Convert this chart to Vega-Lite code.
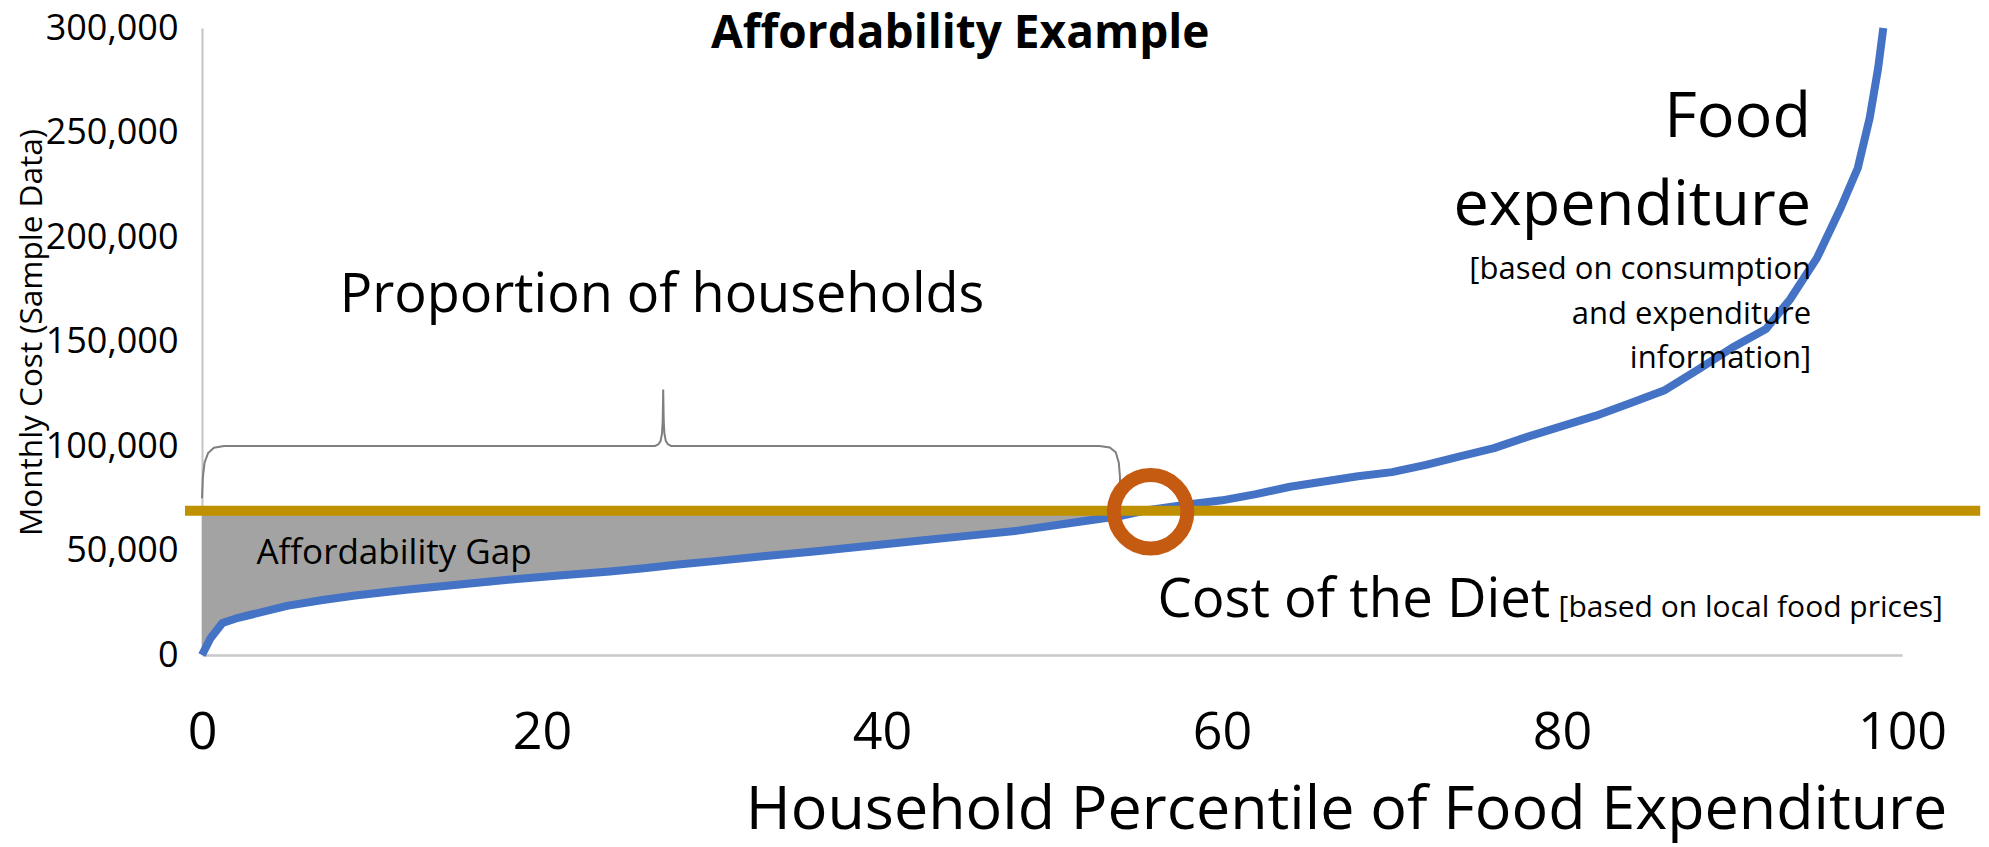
{
  "$schema": "https://vega.github.io/schema/vega-lite/v6.json",
  "autosize": {"type": "none"},
  "padding": {"left": 202, "top": 28, "right": 87, "bottom": 192},
  "width": 1700,
  "height": 627,
  "background": "white",
  "config": {
    "view": {"stroke": null},
    "font": "Open Sans",
    "text": {"font": "Open Sans", "color": "#000000"}
  },
  "datasets": {
    "curve": [
      {"pct": 0, "cost": 0},
      {"pct": 0.5, "cost": 8000},
      {"pct": 1.2, "cost": 15300},
      {"pct": 2, "cost": 17500},
      {"pct": 3, "cost": 19500},
      {"pct": 5, "cost": 23500},
      {"pct": 7, "cost": 26200},
      {"pct": 9, "cost": 28500},
      {"pct": 12, "cost": 31200},
      {"pct": 15, "cost": 33600},
      {"pct": 18, "cost": 36000},
      {"pct": 21, "cost": 38000},
      {"pct": 24, "cost": 40000},
      {"pct": 26, "cost": 41500},
      {"pct": 28, "cost": 43300},
      {"pct": 30, "cost": 44800},
      {"pct": 33, "cost": 47200},
      {"pct": 36, "cost": 49500},
      {"pct": 39, "cost": 52000},
      {"pct": 42, "cost": 54500},
      {"pct": 45, "cost": 57000},
      {"pct": 48, "cost": 59500},
      {"pct": 51, "cost": 63000},
      {"pct": 54, "cost": 66500},
      {"pct": 55.4, "cost": 69000},
      {"pct": 58, "cost": 72000},
      {"pct": 60, "cost": 74000},
      {"pct": 62, "cost": 77000},
      {"pct": 64, "cost": 80500},
      {"pct": 66, "cost": 83000},
      {"pct": 68, "cost": 85500},
      {"pct": 70, "cost": 87500},
      {"pct": 72, "cost": 91000},
      {"pct": 74, "cost": 95000},
      {"pct": 76, "cost": 99000},
      {"pct": 78, "cost": 104500},
      {"pct": 80, "cost": 109500},
      {"pct": 82, "cost": 114500},
      {"pct": 84, "cost": 120500},
      {"pct": 86, "cost": 126500},
      {"pct": 88, "cost": 136500},
      {"pct": 90, "cost": 147000},
      {"pct": 92, "cost": 156000},
      {"pct": 93.4, "cost": 170000},
      {"pct": 95, "cost": 190000},
      {"pct": 96.4, "cost": 214000},
      {"pct": 97.4, "cost": 233000},
      {"pct": 98.1, "cost": 257000},
      {"pct": 98.6, "cost": 281000},
      {"pct": 98.9, "cost": 300000}
    ],
    "brace": [
      {"step": 1, "pct": 0, "cost": 75000},
      {"step": 2, "pct": 0.05, "cost": 85000},
      {"step": 3, "pct": 0.15, "cost": 92000},
      {"step": 4, "pct": 0.35, "cost": 96500},
      {"step": 5, "pct": 0.7, "cost": 99200},
      {"step": 6, "pct": 1.3, "cost": 100000},
      {"step": 7, "pct": 26.65, "cost": 100000},
      {"step": 8, "pct": 26.85, "cost": 100800},
      {"step": 9, "pct": 26.98, "cost": 102500},
      {"step": 10, "pct": 27.06, "cost": 106000},
      {"step": 11, "pct": 27.1, "cost": 112000},
      {"step": 12, "pct": 27.13, "cost": 127000},
      {"step": 13, "pct": 27.16, "cost": 112000},
      {"step": 14, "pct": 27.2, "cost": 106000},
      {"step": 15, "pct": 27.28, "cost": 102500},
      {"step": 16, "pct": 27.41, "cost": 100800},
      {"step": 17, "pct": 27.6, "cost": 100000},
      {"step": 18, "pct": 52.8, "cost": 100000},
      {"step": 19, "pct": 53.4, "cost": 99300},
      {"step": 20, "pct": 53.75, "cost": 97000},
      {"step": 21, "pct": 53.93, "cost": 92000},
      {"step": 22, "pct": 54, "cost": 85000},
      {"step": 23, "pct": 54, "cost": 79000}
    ]
  },
  "encoding": {
    "x": {
      "field": "pct",
      "type": "quantitative",
      "scale": {"domain": [0, 100], "nice": false, "zero": false},
      "axis": {
        "title": "Household Percentile of Food Expenditure",
        "values": [0, 20, 40, 60, 80, 100],
        "grid": false,
        "ticks": false,
        "domainColor": "#C9C9C9",
        "domainWidth": 2.5,
        "labelFont": "Open Sans",
        "labelFontSize": 52,
        "labelColor": "#000000",
        "labelPadding": 52,
        "labelFlush": false,
        "titleFont": "Open Sans",
        "titleFontSize": 61,
        "titleFontWeight": "normal",
        "titleColor": "#000000",
        "titleAlign": "center",
        "titleBaseline": "alphabetic",
        "titleX": 1144,
        "titleY": 173
      }
    },
    "y": {
      "field": "cost",
      "type": "quantitative",
      "scale": {"domain": [0, 300000], "nice": false},
      "axis": {
        "title": "Monthly Cost (Sample Data)",
        "values": [0, 50000, 100000, 150000, 200000, 250000, 300000],
        "format": ",.0f",
        "grid": false,
        "ticks": false,
        "domainColor": "#C4C4C4",
        "domainWidth": 2,
        "labelFont": "Open Sans",
        "labelFontSize": 36,
        "labelColor": "#000000",
        "labelPadding": 24,
        "labelFlush": false,
        "titleFont": "Open Sans",
        "titleFontSize": 31.5,
        "titleFontWeight": "normal",
        "titleColor": "#000000",
        "titleAngle": -90,
        "titleAlign": "center",
        "titleBaseline": "middle",
        "titleX": -170,
        "titleY": 304
      }
    }
  },
  "layer": [
    {
      "data": {"name": "curve"},
      "transform": [{"filter": "datum.pct <= 55.4"}],
      "mark": {"type": "area", "color": "#A3A3A3", "opacity": 1},
      "encoding": {
        "y2": {"datum": 69000}
      }
    },
    {
      "data": {"name": "curve"},
      "mark": {"type": "line", "color": "#4472C4", "strokeWidth": 8, "strokeJoin": "round", "strokeCap": "butt", "clip": false},
      "encoding": {}
    },
    {
      "data": {"values": [{"pct": -1, "pct_end": 104.6, "cost": 69000}]},
      "mark": {"type": "rule", "color": "#BF9000", "strokeWidth": 10},
      "encoding": {
        "x2": {"field": "pct_end"}
      }
    },
    {
      "data": {"name": "brace"},
      "mark": {"type": "line", "color": "#7F7F7F", "strokeWidth": 2},
      "encoding": {
        "order": {"field": "step", "type": "quantitative"}
      }
    },
    {
      "data": {"values": [{"pct": 55.8, "cost": 68500}]},
      "mark": {"type": "point", "shape": "circle", "filled": false, "size": 5400, "stroke": "#C55A11", "strokeWidth": 14, "opacity": 1},
      "encoding": {}
    },
    {
      "data": {"values": [{"pct": 44.6, "cost": 297100, "label": "Affordability Example"}]},
      "mark": {"type": "text", "align": "center", "baseline": "middle", "fontSize": 46, "fontWeight": "bold"},
      "encoding": {"text": {"field": "label"}}
    },
    {
      "data": {"values": [{"pct": 8.1, "cost": 171800, "label": "Proportion of households"}]},
      "mark": {"type": "text", "align": "left", "baseline": "middle", "fontSize": 54},
      "encoding": {"text": {"field": "label"}}
    },
    {
      "data": {"values": [
        {"pct": 94.65, "cost": 257000, "label": "Food"},
        {"pct": 94.65, "cost": 215000, "label": "expenditure"}
      ]},
      "mark": {"type": "text", "align": "right", "baseline": "middle", "fontSize": 63},
      "encoding": {"text": {"field": "label"}}
    },
    {
      "data": {"values": [
        {"pct": 94.65, "cost": 184000, "label": "[based on consumption"},
        {"pct": 94.65, "cost": 162700, "label": "and expenditure"},
        {"pct": 94.65, "cost": 141600, "label": "information]"}
      ]},
      "mark": {"type": "text", "align": "right", "baseline": "middle", "fontSize": 31},
      "encoding": {"text": {"field": "label"}}
    },
    {
      "data": {"values": [{"pct": 3.2, "cost": 48800, "label": "Affordability Gap"}]},
      "mark": {"type": "text", "align": "left", "baseline": "middle", "fontSize": 35},
      "encoding": {"text": {"field": "label"}}
    },
    {
      "data": {"values": [{"pct": 56.2, "cost": 18200, "label": "Cost of the Diet"}]},
      "mark": {"type": "text", "align": "left", "baseline": "alphabetic", "fontSize": 54.5},
      "encoding": {"text": {"field": "label"}}
    },
    {
      "data": {"values": [{"pct": 79.8, "cost": 18200, "label": "[based on local food prices]"}]},
      "mark": {"type": "text", "align": "left", "baseline": "alphabetic", "fontSize": 30},
      "encoding": {"text": {"field": "label"}}
    }
  ]
}
